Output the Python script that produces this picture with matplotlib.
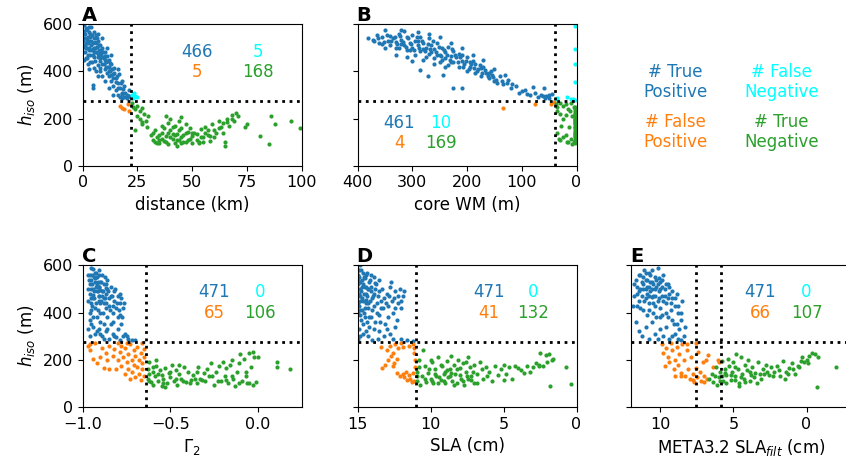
import matplotlib
matplotlib.use("Agg")
import matplotlib.pyplot as plt
import numpy as np

BLUE = "#1f77b4"
CYAN = "#00ffff"
ORANGE = "#ff7f0e"
GREEN = "#2ca02c"

H_CUT = 275

# ---- panel A: distance (km) vs h_iso (m)
dist_tp = [(0.5, 560), (1, 540), (1.5, 520), (2, 575), (2, 500), (2.5, 545), (3, 530), (3, 490),
           (3.5, 560), (4, 510), (4, 590), (4.5, 470), (5, 540), (5, 500), (5.5, 525), (6, 480),
           (6, 555), (6.5, 505), (7, 460), (7, 530), (7.5, 490), (8, 510), (8, 445), (8.5, 470),
           (9, 500), (9, 430), (9.5, 455), (10, 480), (10, 410), (10.5, 440), (11, 395), (11, 465),
           (11.5, 420), (12, 380), (12, 450), (12.5, 400), (13, 430), (13, 360), (14, 390), (14, 340),
           (14.5, 415), (15, 370), (15, 320), (16, 350), (16, 300), (16.5, 390), (17, 330), (17, 290),
           (18, 360), (18, 310), (19, 290), (19, 340), (20, 300), (20, 285), (21, 295), (21, 320),
           (1, 480), (2, 455), (0.5, 595), (3.5, 440), (5, 415), (6, 400), (7, 380), (8, 400),
           (4.8, 330), (4.7, 342), (0.6, 448), (1.5, 585), (2.5, 470), (3, 565), (4, 530), (6, 520),
           (7, 560), (8, 480), (9, 540), (10, 450), (11, 500), (12, 420), (13, 470), (3, 410),
           (10, 360), (12, 330), (14, 300), (16, 410), (18, 285), (9, 380), (1, 510), (5, 460),
           (0.3, 530), (0.8, 505), (1.2, 560), (1.8, 535), (2.2, 520), (2.8, 500), (3.3, 545),
           (3.8, 490), (4.3, 555), (4.6, 520), (5.2, 480), (5.8, 500), (6.3, 540), (6.8, 475),
           (7.3, 510), (7.8, 455), (8.3, 490), (8.8, 460), (9.3, 480), (9.8, 430), (10.3, 465),
           (10.8, 420), (11.3, 445), (11.8, 400), (12.3, 435), (12.8, 385), (13.3, 410), (13.8, 370),
           (14.3, 395), (15.3, 355), (15.8, 380), (16.3, 330), (17.3, 350), (17.8, 305), (18.5, 325),
           (19.5, 310), (20.5, 295), (0.3, 480), (1.3, 455), (2.3, 430), (3.3, 470), (4.3, 440),
           (5.8, 445), (6.8, 425), (7.8, 415), (0.8, 570), (2.8, 590), (5.3, 565), (1.5, 500),
           (4.5, 495)]
dist_fn = [(22.5, 300), (23, 285), (24, 295), (25, 290), (23.5, 310)]
dist_fp = [(17, 255), (18, 245), (19, 240), (21, 230), (20.5, 262)]
dist_tn = [(22.5, 265), (23, 250), (24, 240), (25, 255), (26, 230), (27, 245), (25, 210), (28, 220),
           (26, 200), (29, 190), (30, 210), (27, 175), (24, 150), (27, 187), (29.4, 166),
           (31, 130), (32, 110), (33, 150), (34, 120), (35, 95), (36, 140), (37, 105), (38, 125),
           (39, 180), (40, 200), (40, 150), (41, 115), (42, 170), (42, 95), (43, 135), (44, 190),
           (44, 110), (45, 160), (45, 205), (46, 130), (47, 100), (47, 175), (48, 145), (49, 115),
           (50, 125), (50, 95), (38, 210), (36, 170), (33, 100), (39, 90), (41, 135), (43, 85),
           (51, 140), (52, 110), (53, 100), (54, 155), (55, 120), (56, 165), (57, 130), (58, 105),
           (59, 175), (60, 150), (61, 140), (62, 190), (63, 165), (64, 180), (65, 100), (66, 200),
           (67, 170), (68, 215), (69, 190), (70, 225), (71, 210), (65, 85), (60, 120), (56, 140),
           (74, 165), (75, 175), (81, 125), (85, 90), (86, 210), (88, 175), (95, 190), (99, 160),
           (32, 140), (34, 95), (35, 130), (36, 115), (37, 160), (38, 100), (39, 140), (40, 120),
           (41, 165), (42, 130), (43, 110), (44, 150), (45, 120), (46, 100), (47, 140), (48, 110),
           (49, 160), (50, 140), (52, 135), (54, 120), (55, 100), (57, 150), (58, 125), (62, 160),
           (64, 140), (66, 185), (68, 200), (35, 110), (45, 95), (53, 95)]

# ---- panel B: core WM (m) vs h_iso (m)
core_tp = [(380, 540), (370, 530), (365, 555), (360, 520), (355, 545), (350, 575), (345, 530),
           (340, 510), (340, 550), (335, 540), (330, 525), (325, 500), (325, 560), (320, 535),
           (315, 510), (315, 570), (310, 490), (310, 545), (305, 520), (300, 500), (300, 555),
           (295, 470), (295, 530), (290, 510), (285, 485), (285, 545), (280, 520), (275, 460),
           (275, 500), (270, 540), (265, 480), (265, 510), (260, 455), (260, 495), (255, 520),
           (250, 470), (250, 440), (245, 500), (240, 455), (240, 480), (235, 425), (235, 505),
           (230, 465), (225, 440), (225, 485), (220, 460), (215, 420), (215, 475), (210, 445),
           (205, 430), (200, 400), (200, 460), (195, 420), (190, 445), (185, 395), (185, 430),
           (180, 410), (175, 380), (170, 420), (165, 395), (160, 370), (155, 385), (150, 360),
           (140, 380), (135, 345), (125, 365), (120, 330), (110, 340), (105, 310), (95, 320),
           (85, 300), (80, 335), (75, 310), (70, 290), (65, 300), (60, 330), (55, 295), (50, 285),
           (45, 305), (50, 300), (286, 405), (272, 380), (243, 385), (225, 330), (209, 330),
           (330, 500), (320, 515), (305, 490), (290, 530), (280, 495), (270, 475), (255, 470),
           (245, 450), (230, 440), (210, 470), (195, 440), (175, 415), (160, 395), (145, 350),
           (372, 535), (362, 540), (352, 525), (347, 555), (338, 530), (332, 545), (327, 515),
           (322, 550), (317, 525), (312, 505), (307, 540), (302, 515), (297, 490), (292, 545),
           (287, 500), (282, 530), (277, 485), (272, 515), (267, 495), (262, 530), (257, 480),
           (252, 505), (247, 465), (242, 490), (237, 470), (232, 450), (227, 495), (222, 470),
           (217, 440), (212, 460), (207, 420), (202, 445), (197, 410), (192, 430), (187, 415),
           (182, 400), (177, 425), (172, 395), (167, 405), (162, 380), (157, 400), (152, 375),
           (147, 365), (137, 360), (127, 350), (117, 345), (100, 315), (90, 305), (62, 295), (58, 285),
           (330, 470), (300, 445), (280, 450), (260, 430), (240, 420), (350, 500), (310, 460),
           (270, 560), (250, 545), (230, 520), (210, 500), (190, 470), (170, 450), (320, 575),
           (290, 565), (355, 515), (150, 410), (130, 385)]
core_fn = [(2, 593), (2, 495), (2, 430), (2, 355), (35, 285), (18, 290), (3, 280), (6, 283),
           (38, 281), (10, 282)]
core_fp = [(135, 243), (75, 262), (47, 262), (42, 270)]
core_tn = [(38, 260), (35, 250), (30, 265), (25, 255), (20, 260), (15, 240), (10, 265), (5, 250),
           (35, 230), (30, 220), (25, 200), (20, 215), (12, 230), (8, 210), (3, 200), (36, 140),
           (32, 112), (30, 110), (25, 120), (20, 130), (15, 100), (10, 115), (5, 100), (28, 170),
           (2, 100), (2, 110), (2, 120), (2, 130), (2, 140), (2, 150), (2, 160), (2, 170), (2, 180),
           (2, 190), (2, 200), (2, 210), (2, 220), (2, 230), (2, 240), (2, 250), (3, 95), (3, 105),
           (3, 125), (3, 135), (3, 145), (3, 165), (3, 175), (3, 185), (3, 195), (3, 205), (3, 215),
           (3, 225), (18, 100), (8, 90), (14, 165)]

# ---- panel C: Gamma_2 vs h_iso (m)
gam_tp = [(-0.97, 560), (-0.96, 520), (-0.96, 480), (-0.95, 590), (-0.95, 440), (-0.95, 540),
          (-0.94, 500), (-0.94, 460), (-0.93, 570), (-0.93, 420), (-0.93, 530), (-0.92, 490),
          (-0.92, 550), (-0.92, 380), (-0.91, 470), (-0.91, 510), (-0.91, 580), (-0.90, 440),
          (-0.90, 530), (-0.90, 400), (-0.89, 490), (-0.89, 560), (-0.88, 460), (-0.88, 520),
          (-0.88, 350), (-0.87, 480), (-0.87, 420), (-0.86, 540), (-0.86, 500), (-0.86, 380),
          (-0.85, 460), (-0.85, 430), (-0.84, 510), (-0.84, 470), (-0.83, 400), (-0.83, 360),
          (-0.82, 450), (-0.82, 490), (-0.81, 420), (-0.80, 470), (-0.80, 330), (-0.79, 440),
          (-0.79, 390), (-0.78, 460), (-0.78, 350), (-0.77, 420), (-0.76, 310), (-0.75, 300),
          (-0.74, 290), (-0.72, 285), (-0.70, 282), (-0.97, 330), (-0.96, 300), (-0.95, 350),
          (-0.93, 310), (-0.91, 330), (-0.89, 300), (-0.87, 320), (-0.85, 290), (-0.83, 310),
          (-0.81, 295), (-0.79, 285), (-0.96, 400), (-0.94, 380), (-0.90, 360), (-0.97, 450),
          (-0.95, 410), (-0.94, 586), (-0.96, 560), (-0.93, 545), (-0.92, 515), (-0.90, 495),
          (-0.89, 470), (-0.87, 505), (-0.94, 475), (-0.97, 500), (-0.91, 450), (-0.88, 440),
          (-0.965, 540), (-0.955, 500), (-0.955, 460), (-0.945, 560), (-0.945, 520), (-0.945, 430),
          (-0.935, 490), (-0.935, 550), (-0.935, 460), (-0.925, 510), (-0.925, 570), (-0.925, 440),
          (-0.915, 490), (-0.915, 530), (-0.915, 410), (-0.905, 560), (-0.905, 470), (-0.905, 510),
          (-0.895, 450), (-0.895, 530), (-0.885, 490), (-0.885, 400), (-0.875, 550), (-0.875, 460),
          (-0.865, 520), (-0.865, 440), (-0.855, 490), (-0.845, 410), (-0.835, 470), (-0.825, 430),
          (-0.815, 500), (-0.805, 440), (-0.795, 410), (-0.785, 480), (-0.775, 380), (-0.765, 440),
          (-0.96, 370), (-0.94, 340), (-0.92, 320), (-0.90, 310), (-0.88, 290), (-0.86, 330),
          (-0.84, 350), (-0.82, 300), (-0.80, 380), (-0.77, 300)]
gam_fp = [(-0.97, 260), (-0.96, 240), (-0.94, 205), (-0.93, 270), (-0.92, 185), (-0.90, 210),
          (-0.89, 250), (-0.88, 165), (-0.87, 230), (-0.86, 200), (-0.85, 260), (-0.85, 160),
          (-0.83, 215), (-0.82, 245), (-0.81, 160), (-0.80, 270), (-0.80, 200), (-0.79, 235),
          (-0.78, 175), (-0.78, 260), (-0.77, 210), (-0.76, 140), (-0.76, 250), (-0.75, 190),
          (-0.74, 225), (-0.74, 160), (-0.73, 120), (-0.73, 265), (-0.72, 200), (-0.72, 150),
          (-0.71, 240), (-0.71, 180), (-0.70, 125), (-0.70, 215), (-0.69, 170), (-0.69, 255),
          (-0.68, 140), (-0.68, 200), (-0.67, 115), (-0.67, 230), (-0.66, 160), (-0.66, 185),
          (-0.65, 130), (-0.65, 210), (-0.65, 245), (-0.66, 270), (-0.75, 270), (-0.96, 268)]
gam_tn = [(-0.63, 120), (-0.63, 160), (-0.62, 190), (-0.62, 140), (-0.61, 105), (-0.60, 150),
          (-0.59, 130), (-0.58, 175), (-0.57, 110), (-0.56, 155), (-0.55, 90), (-0.55, 135),
          (-0.54, 120), (-0.53, 165), (-0.52, 100), (-0.51, 145), (-0.50, 125), (-0.49, 180),
          (-0.48, 110), (-0.47, 155), (-0.46, 95), (-0.45, 140), (-0.44, 120), (-0.42, 170),
          (-0.41, 105), (-0.40, 150), (-0.38, 115), (-0.37, 135), (-0.35, 100), (-0.34, 170),
          (-0.33, 120), (-0.31, 145), (-0.30, 110), (-0.29, 160), (-0.27, 185), (-0.26, 130),
          (-0.25, 95), (-0.24, 150), (-0.22, 175), (-0.21, 110), (-0.20, 190), (-0.19, 130),
          (-0.18, 165), (-0.17, 100), (-0.16, 180), (-0.15, 200), (-0.14, 120), (-0.13, 90),
          (-0.12, 150), (-0.11, 185), (-0.10, 225), (-0.09, 110), (-0.08, 205), (-0.07, 130),
          (-0.06, 100), (-0.05, 230), (-0.04, 170), (-0.03, 95), (-0.02, 210), (0.00, 210),
          (-0.03, 232), (0.11, 190), (0.11, 170), (0.18, 160), (-0.60, 95), (-0.58, 200),
          (-0.53, 85), (-0.45, 180), (-0.39, 100), (-0.28, 130), (-0.23, 110), (-0.35, 150),
          (-0.62, 110), (-0.60, 170), (-0.57, 140), (-0.54, 100), (-0.50, 150), (-0.47, 120),
          (-0.43, 110), (-0.36, 120), (-0.32, 115), (-0.18, 115), (-0.15, 130), (-0.11, 100),
          (-0.07, 150), (-0.05, 100), (-0.01, 105)]

# ---- panel D: SLA (cm) vs h_iso (m)
sla_tp = [(15, 580), (15, 520), (15, 470), (14.9, 550), (14.9, 430), (14.8, 600), (14.8, 500),
          (14.8, 390), (14.7, 540), (14.7, 460), (14.6, 570), (14.6, 350), (14.5, 510), (14.5, 420),
          (14.4, 480), (14.4, 560), (14.3, 300), (14.3, 440), (14.2, 530), (14.2, 380), (14.1, 490),
          (14.0, 460), (14.0, 410), (13.9, 550), (13.9, 330), (13.8, 500), (13.7, 440), (13.6, 470),
          (13.5, 540), (13.5, 390), (13.4, 420), (13.3, 500), (13.2, 460), (13.1, 350), (13.0, 480),
          (12.9, 430), (12.8, 510), (12.7, 530), (12.6, 400), (12.5, 460), (12.4, 490), (12.3, 370),
          (12.2, 440), (12.1, 500), (12.0, 420), (11.9, 470), (11.8, 490), (12.4, 340), (12.8, 310),
          (13.2, 300), (13.6, 290), (14.0, 285), (12.0, 290), (11.6, 285), (11.2, 280), (14.9, 330),
          (15, 400), (14.6, 310), (13.8, 360), (14.2, 340), (12.9, 380), (13.4, 450), (14.7, 410),
          (15, 290), (14.9, 480), (14.5, 380), (14.9, 580), (14.7, 510), (14.5, 545), (14.3, 500),
          (14.1, 560), (13.8, 525), (15, 540), (14.8, 450), (14.4, 455), (13.9, 480),
          (14.95, 560), (14.95, 500), (14.95, 440), (14.85, 530), (14.85, 470), (14.85, 410),
          (14.75, 580), (14.75, 490), (14.75, 370), (14.65, 520), (14.65, 450), (14.55, 550),
          (14.55, 480), (14.55, 400), (14.45, 510), (14.45, 440), (14.35, 570), (14.35, 470),
          (14.35, 360), (14.25, 500), (14.25, 420), (14.15, 540), (14.15, 450), (14.05, 510),
          (14.05, 380), (13.95, 470), (13.85, 430), (13.75, 520), (13.65, 400), (13.55, 490),
          (13.45, 360), (13.25, 420), (13.05, 440), (12.85, 470), (12.65, 450), (12.45, 420),
          (12.25, 470), (12.05, 450), (13.55, 320), (14.45, 320), (14.85, 300), (13.0, 330), (12.6, 290)]
sla_fp = [(13.4, 255), (13.3, 165), (13.1, 180), (13.0, 240), (12.9, 200), (12.8, 260), (12.7, 215),
          (12.6, 230), (12.5, 185), (12.4, 265), (12.3, 205), (12.2, 250), (12.0, 270), (11.9, 140),
          (11.8, 125), (11.7, 150), (11.6, 115), (11.5, 135), (11.4, 120), (11.3, 105), (11.2, 145),
          (11.1, 250), (11.1, 230), (11.2, 265), (11.05, 200), (11.1, 110), (12.1, 130), (12.3, 145),
          (11.9, 255), (12.6, 175), (11.5, 260), (11.05, 170)]
sla_tn = [(10.9, 110), (10.9, 150), (10.8, 200), (10.7, 95), (10.6, 130), (10.5, 240), (10.4, 175),
          (10.3, 105), (10.2, 145), (10.0, 120), (9.9, 190), (9.8, 100), (9.7, 160), (9.6, 130),
          (9.5, 210), (9.3, 115), (9.2, 175), (9.1, 140), (9.0, 100), (8.9, 195), (8.8, 125),
          (8.7, 160), (8.6, 215), (8.5, 110), (8.4, 180), (8.3, 140), (8.2, 100), (8.1, 200),
          (8.0, 165), (7.9, 120), (7.8, 185), (7.7, 95), (7.6, 150), (7.5, 130), (7.4, 210),
          (7.3, 170), (7.2, 115), (7.0, 180), (6.8, 140), (6.6, 190), (6.4, 120), (6.2, 170),
          (6.0, 150), (5.8, 110), (5.6, 175), (5.4, 135), (5.2, 160), (5.0, 180), (4.8, 140),
          (4.6, 170), (4.4, 120), (4.2, 175), (4.0, 165), (3.8, 155), (3.6, 145), (3.4, 175),
          (3.2, 150), (3.0, 170), (2.8, 185), (2.6, 175), (2.5, 230), (2.3, 175), (2.1, 220),
          (1.9, 225), (1.7, 200), (1.6, 205), (2.0, 190), (2.6, 180), (1.8, 88), (0.7, 170),
          (0.4, 96), (8.6, 145), (9.4, 125), (7.2, 130), (6.8, 100), (10.0, 200), (10.9, 130),
          (10.8, 170), (9.0, 150), (8.0, 135), (7.0, 100), (5.0, 115), (10.4, 120), (10.1, 160),
          (9.9, 110), (9.7, 140), (9.5, 100), (9.3, 180), (9.1, 110), (8.9, 155), (8.7, 130),
          (8.4, 95), (8.2, 160), (7.8, 110), (7.6, 190), (7.4, 120), (7.1, 150), (6.5, 160), (6.1, 130)]

# ---- panel E: META3.2 SLA_filt (cm) vs h_iso (m)
meta_tp = [(11.8, 520), (11.6, 480), (11.5, 560), (11.4, 420), (11.3, 530), (11.2, 500), (11.1, 580),
           (11.0, 460), (11.0, 540), (10.9, 510), (10.8, 440), (10.8, 570), (10.7, 490), (10.6, 530),
           (10.5, 400), (10.5, 470), (10.4, 550), (10.3, 510), (10.2, 450), (10.2, 590), (10.1, 490),
           (10.0, 530), (10.0, 420), (9.9, 470), (9.8, 560), (9.7, 500), (9.6, 440), (9.5, 380),
           (9.5, 520), (9.4, 480), (9.3, 410), (9.2, 460), (9.1, 350), (9.0, 430), (8.9, 480),
           (8.8, 400), (8.7, 330), (8.6, 370), (8.5, 450), (8.4, 300), (11.7, 360), (11.5, 320),
           (11.3, 300), (11.0, 340), (10.8, 290), (10.6, 360), (10.4, 310), (10.2, 290), (10.0, 330),
           (9.8, 300), (9.6, 340), (9.4, 290), (9.2, 300), (9.0, 310), (8.8, 290), (8.6, 285),
           (11.9, 430), (11.5, 450), (10.9, 390), (10.3, 380), (9.9, 390), (8.3, 340), (11.2, 550),
           (10.9, 480), (10.7, 560), (10.5, 520), (10.1, 545), (11.4, 500), (10.6, 465), (9.9, 510),
           (11.7, 540), (11.6, 510), (11.5, 490), (11.4, 560), (11.3, 470), (11.2, 520), (11.1, 450),
           (11.0, 570), (11.0, 500), (10.9, 540), (10.8, 470), (10.8, 510), (10.7, 530), (10.6, 580),
           (10.6, 500), (10.5, 440), (10.4, 500), (10.4, 470), (10.3, 540), (10.2, 520), (10.1, 460),
           (10.0, 500), (9.9, 540), (9.8, 450), (9.7, 470), (9.6, 520), (9.5, 460), (9.4, 510),
           (9.3, 440), (9.2, 490), (9.0, 460), (8.8, 430), (8.6, 400), (11.8, 470), (11.6, 430),
           (11.2, 410), (10.8, 410), (10.4, 430), (10.0, 380), (9.6, 400), (9.2, 370), (8.9, 350)]
meta_fp = [(9.9, 265), (9.8, 230), (9.7, 175), (9.6, 250), (9.5, 210), (9.4, 190), (9.3, 270),
           (9.2, 240), (9.1, 160), (9.0, 200), (8.9, 255), (8.8, 180), (8.7, 225), (8.6, 145),
           (8.5, 265), (8.4, 200), (8.3, 130), (8.2, 240), (8.1, 160), (8.0, 120), (7.9, 210),
           (7.8, 140), (7.7, 105), (7.6, 165), (7.5, 125), (7.4, 235), (7.3, 150), (7.2, 110),
           (7.1, 190), (7.0, 130), (6.9, 200), (6.8, 120), (6.76, 219), (6.4, 170), (6.08, 198),
           (5.96, 190), (9.0, 130), (8.6, 130), (7.8, 115), (7.0, 105), (8.2, 265), (7.6, 270)]
meta_tn = [(6.7, 120), (6.5, 140), (6.4, 105), (6.2, 170), (6.0, 125), (5.9, 150), (5.8, 195),
           (5.7, 110), (5.6, 160), (5.5, 135), (5.4, 205), (5.3, 175), (5.2, 115), (5.1, 150),
           (5.0, 190), (4.9, 130), (4.8, 225), (4.7, 160), (4.6, 100), (4.5, 210), (4.4, 140),
           (4.3, 120), (4.2, 180), (4.1, 155), (4.0, 200), (3.9, 110), (3.8, 135), (3.7, 170),
           (3.5, 145), (3.3, 190), (3.1, 120), (3.0, 160), (2.8, 180), (2.6, 135), (2.4, 170),
           (2.2, 150), (2.0, 175), (1.8, 130), (1.6, 195), (1.4, 150), (1.2, 165), (1.0, 185),
           (0.8, 140), (0.6, 175), (0.4, 195), (0.2, 190), (0.0, 200), (-0.2, 215), (-0.4, 230),
           (-0.6, 225), (-0.8, 210), (-0.7, 85), (-2.0, 170), (5.5, 100), (4.6, 90), (3.4, 100),
           (2.9, 140), (1.5, 120), (-0.1, 185), (0.3, 210), (6.1, 95), (5.8, 130), (4.9, 115),
           (6.3, 130), (5.9, 110), (5.6, 145), (5.2, 135), (4.9, 170), (4.5, 125), (4.2, 105),
           (3.9, 150), (3.6, 125), (3.2, 140), (2.7, 150), (2.3, 130), (1.9, 155), (1.3, 140),
           (0.9, 160), (0.5, 170)]

# counts shown in each panel: TP, FN, FP, TN
counts_a = ["466", "5", "5", "168"]
counts_b = ["461", "10", "4", "169"]
counts_c = ["471", "0", "65", "106"]
counts_d = ["471", "0", "41", "132"]
counts_e = ["471", "0", "66", "107"]


def panel(ax, tp, fn, fp, tn, counts, letter, xlabel, xlim, xticks, vlines, txt_x, txt_y):
    for pts, c in ((tp, BLUE), (fn, CYAN), (fp, ORANGE), (tn, GREEN)):
        if len(pts):
            arr = np.array(pts, dtype=float)
            ax.scatter(arr[:, 0], arr[:, 1], s=9, color=c, linewidths=0, zorder=2)
    ax.axhline(H_CUT, color="k", ls=":", lw=2, zorder=3)
    for v in vlines:
        ax.axvline(v, color="k", ls=":", lw=2, zorder=3)
    ax.set_xlim(*xlim)
    ax.set_ylim(0, 600)
    ax.set_xticks(xticks)
    ax.set_yticks([0, 200, 400, 600])
    ax.tick_params(labelsize=11.5)
    ax.set_xlabel(xlabel, fontsize=12)
    ax.text(-0.005, 0.995, letter, transform=ax.transAxes, fontsize=14,
            fontweight="bold", ha="left", va="bottom")
    x1, x2 = txt_x
    y1, y2 = txt_y
    kw = dict(transform=ax.transAxes, ha="center", va="center", fontsize=12)
    ax.text(x1, y1, counts[0], color=BLUE, **kw)
    ax.text(x2, y1, counts[1], color=CYAN, **kw)
    ax.text(x1, y2, counts[2], color=ORANGE, **kw)
    ax.text(x2, y2, counts[3], color=GREEN, **kw)


def main():
    fig = plt.figure(figsize=(8.46, 4.63), dpi=100)
    w, h = 0.2589, 0.3057
    ax_a = fig.add_axes([0.0978, 0.6421, w, h])
    ax_b = fig.add_axes([0.4226, 0.6421, w, h])
    ax_c = fig.add_axes([0.0978, 0.1210, w, h])
    ax_d = fig.add_axes([0.4226, 0.1210, w, h])
    ax_e = fig.add_axes([0.7462, 0.1210, w, h])

    panel(ax_a, dist_tp, dist_fn, dist_fp, dist_tn, counts_a, "A", "distance (km)",
          (0, 100), [0, 25, 50, 75, 100], [22], (0.52, 0.80), (0.80, 0.66))
    panel(ax_b, core_tp, core_fn, core_fp, core_tn, counts_b, "B", "core WM (m)",
          (400, 0), [400, 300, 200, 100, 0], [40], (0.19, 0.38), (0.30, 0.16))
    panel(ax_c, gam_tp, [], gam_fp, gam_tn, counts_c, "C", r"$\Gamma_2$",
          (-1.0, 0.25), [-1.0, -0.5, 0.0], [-0.64], (0.60, 0.81), (0.81, 0.665))
    panel(ax_d, sla_tp, [], sla_fp, sla_tn, counts_d, "D", "SLA (cm)",
          (15, 0), [15, 10, 5, 0], [11], (0.60, 0.80), (0.81, 0.665))
    panel(ax_e, meta_tp, [], meta_fp, meta_tn, counts_e, "E", r"META3.2 SLA$_{filt}$ (cm)",
          (12, -3), [10, 5, 0], [7.6, 5.85], (0.59, 0.80), (0.81, 0.665))

    ax_a.set_ylabel(r"$h_{iso}$ (m)", fontsize=12)
    ax_c.set_ylabel(r"$h_{iso}$ (m)", fontsize=12)
    for ax in (ax_b, ax_d, ax_e):
        ax.tick_params(labelleft=False)

    # legend explaining the four number colours
    leg = [("# True\nPositive", BLUE, 0.798, 0.823), ("# False\nNegative", CYAN, 0.924, 0.823),
           ("# False\nPositive", ORANGE, 0.798, 0.715), ("# True\nNegative", GREEN, 0.924, 0.715)]
    for txt, c, x, y in leg:
        fig.text(x, y, txt, color=c, fontsize=12, ha="center", va="center")

    fig.savefig("out.png", dpi=100)


if __name__ == "__main__":
    main()
